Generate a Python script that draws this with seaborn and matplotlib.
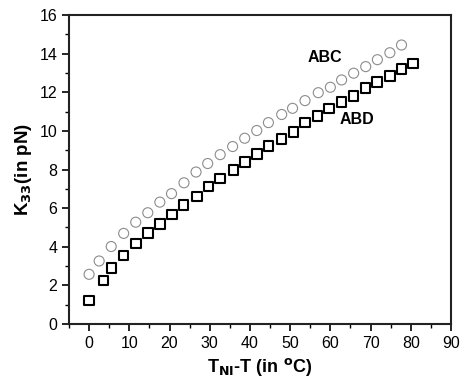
import numpy as np
import pandas as pd
import matplotlib
matplotlib.use("Agg")
import matplotlib.pyplot as plt
import seaborn as sns

# ABC (circles) and ABD (squares) bend elastic constant vs reduced temperature
abc_t = [0, 2.5, 5.5, 8.6, 11.6, 14.6, 17.6, 20.5, 23.6, 26.6, 29.5, 32.6, 35.7, 38.7,
         41.7, 44.6, 47.9, 50.6, 53.7, 57.0, 60.0, 62.8, 65.8, 68.8, 71.7, 74.8, 77.7]
abc_k = [2.57, 3.26, 4.01, 4.69, 5.27, 5.76, 6.31, 6.75, 7.31, 7.87, 8.31, 8.77, 9.19, 9.62,
         10.02, 10.43, 10.85, 11.17, 11.57, 11.98, 12.26, 12.64, 12.99, 13.33, 13.69, 14.05, 14.45]

abd_t = [0, 3.6, 5.6, 8.6, 11.6, 14.7, 17.6, 20.6, 23.5, 26.8, 29.7, 32.6, 35.9, 38.7,
         41.7, 44.6, 47.9, 50.8, 53.7, 56.8, 59.7, 62.8, 65.8, 68.7, 71.6, 74.9, 77.7, 80.6]
abd_k = [1.22, 2.25, 2.91, 3.55, 4.16, 4.71, 5.18, 5.66, 6.17, 6.61, 7.11, 7.54, 7.97, 8.39,
         8.80, 9.23, 9.57, 9.95, 10.43, 10.78, 11.17, 11.49, 11.81, 12.21, 12.52, 12.86, 13.2, 13.5]

sns.set_style("ticks")
plt.rcParams['font.family'] = ['Liberation Sans', 'DejaVu Sans']
plt.rcParams['text.color'] = 'black'
plt.rcParams['axes.labelcolor'] = 'black'
plt.rcParams['xtick.color'] = 'black'
plt.rcParams['ytick.color'] = 'black'

fig = plt.figure(figsize=(4.63, 3.87), dpi=100)
ax = fig.add_axes([0.149, 0.163, 0.825, 0.798])

abc = pd.DataFrame({"t": abc_t, "k": abc_k})
abd = pd.DataFrame({"t": abd_t, "k": abd_k})

sns.scatterplot(data=abc, x="t", y="k", marker="o", s=52, facecolor="none",
                edgecolor="#8c8c8c", linewidth=0.8, ax=ax)
sns.scatterplot(data=abd, x="t", y="k", marker="s", s=48, facecolor="none",
                edgecolor="black", linewidth=1.5, ax=ax)

ax.text(58.7, 13.8, "ABC", fontsize=11.5, fontweight="bold", ha="center", va="center")
ax.text(66.6, 10.57, "ABD", fontsize=11.5, fontweight="bold", ha="center", va="center")

ax.set_xlim(-5, 90)
ax.set_ylim(0, 16)
ax.set_xticks(np.arange(0, 91, 10))
ax.set_xticks(np.arange(-5, 91, 5), minor=True)
ax.set_yticks(np.arange(0, 17, 2))
ax.set_yticks(np.arange(0, 17, 1), minor=True)
ax.tick_params(which="major", length=5, width=1.2, labelsize=11.5)
ax.tick_params(which="minor", length=3, width=1.0)

for sp in ax.spines.values():
    sp.set_linewidth(1.5)
    sp.set_color("#222222")

ax.set_xlabel("T$_{\\mathbf{NI}}$-T (in $^{\\mathbf{o}}$C)", fontsize=13, fontweight="bold")
ax.set_ylabel("K$_{\\mathbf{33}}$(in pN)", fontsize=13.5, fontweight="bold")

fig.savefig("out.png", dpi=100)
